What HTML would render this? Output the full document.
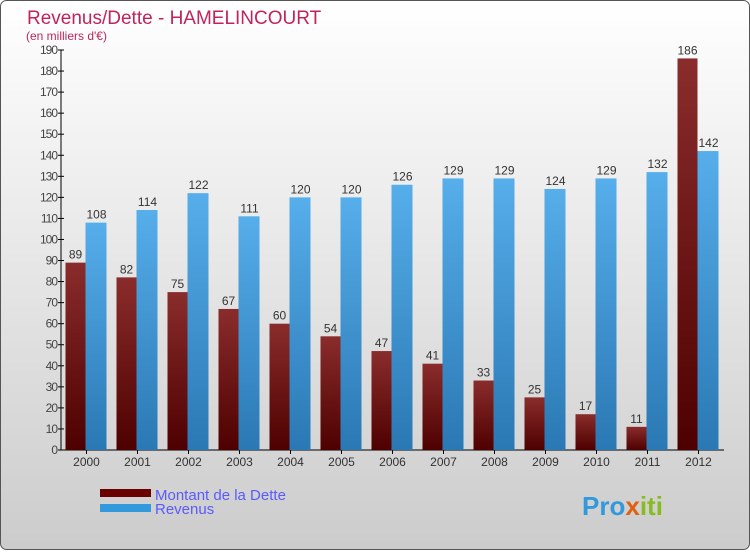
<!DOCTYPE html>
<html><head><meta charset="utf-8"><style>
body{margin:0}
#c{width:750px;height:550px;position:relative;font-family:"Liberation Sans",sans-serif}
</style></head><body>
<div id="c">
<svg id="s" width="750" height="550" xmlns="http://www.w3.org/2000/svg">
<defs>
<linearGradient id="bg" x1="0" y1="0" x2="0" y2="1"><stop offset="0" stop-color="#ffffff"/><stop offset="1" stop-color="#cccccc"/></linearGradient>
<linearGradient id="gd" x1="0" y1="0" x2="0" y2="1"><stop offset="0" stop-color="#8a2c2c"/><stop offset="1" stop-color="#4e0000"/></linearGradient>
<linearGradient id="gr" x1="0" y1="0" x2="0" y2="1"><stop offset="0" stop-color="#56aeea"/><stop offset="1" stop-color="#2a78b4"/></linearGradient>
</defs>
<rect x="0.5" y="0.5" width="749" height="549" rx="6" fill="url(#bg)" stroke="#555"/>
<text x="27" y="24" font-size="19" fill="#c0245c">Revenus/Dette - HAMELINCOURT</text>
<text x="26" y="40" font-size="12" fill="#c0245c">(en milliers d'€)</text>
<g id="axes"></g>
<g id="bars"></g>
<g>
<rect x="100" y="489" width="51" height="8" fill="#6a0000"/>
<text x="155" y="500" font-size="15" fill="#5a5aff">Montant de la Dette</text>
<rect x="100" y="504" width="51" height="8" fill="#3399dd"/>
<text x="155" y="514" font-size="15" fill="#5a5aff">Revenus</text>
</g>
<text x="582" y="515" font-size="26" font-weight="bold" fill="#3399dd">Pro<tspan fill="#e06010">x</tspan><tspan fill="#88bb22">iti</tspan></text>
</svg>
</div>
<script>
const categories=["2000","2001","2002","2003","2004","2005","2006","2007","2008","2009","2010","2011","2012"];
const dette=[89,82,75,67,60,54,47,41,33,25,17,11,186];
const revenus=[108,114,122,111,120,120,126,129,129,124,129,132,142];
const yTicks=[0,10,20,30,40,50,60,70,80,90,100,110,120,130,140,150,160,170,180,190];
const NS="http://www.w3.org/2000/svg";
const x0=61,band=51,y0=450,ymax=190,ph=400;
const y=v=>y0-v/ymax*ph;
const xc=i=>x0+band/2+i*band;
function mk(t,a,p){const e=document.createElementNS(NS,t);for(const k in a)e.setAttribute(k,a[k]);p.appendChild(e);return e;}
const ax=document.getElementById('axes'),bg=document.getElementById('bars');
const yl=mk('line',{x1:x0,y1:y(ymax),x2:x0,y2:y0,stroke:'#000'},ax);


const xl=mk('line',{x1:x0,y1:y0,x2:x0+band*categories.length,y2:y0,stroke:'#000'},ax);


yTicks.forEach(t=>{
 mk('line',{x1:x0-3,x2:x0+3,y1:y(t),y2:y(t),stroke:'#000'},ax);
 const tx=mk('text',{x:x0-4,y:y(t)+4,'font-size':12,fill:'#444','text-anchor':'end','letter-spacing':'-1'},ax);
 tx.textContent=t;
 
 
});
categories.forEach((c,i)=>{
 const cx=xc(i);
 mk('line',{x1:cx,x2:cx,y1:y0,y2:y0+4,stroke:'#000'},ax);
 const tx=mk('text',{x:cx,y:y0+16,'font-size':12,fill:'#333','text-anchor':'middle'},ax);
 tx.textContent=c;
 
 
 const b1=mk('rect',{x:cx-21,y:y(dette[i]),width:20,height:y0-y(dette[i]),fill:'url(#gd)'},bg);
 
 
 const b2=mk('rect',{x:cx-1,y:y(revenus[i]),width:21,height:y0-y(revenus[i]),fill:'url(#gr)'},bg);
 
 
 const l1=mk('text',{x:cx-11,y:y(dette[i])-4,'font-size':12,fill:'#333','text-anchor':'middle'},bg);
 l1.textContent=dette[i];
 
 
 const l2=mk('text',{x:cx+10,y:y(revenus[i])-4,'font-size':12,fill:'#333','text-anchor':'middle'},bg);
 l2.textContent=revenus[i];
 
 
});
</script>
</body></html>
